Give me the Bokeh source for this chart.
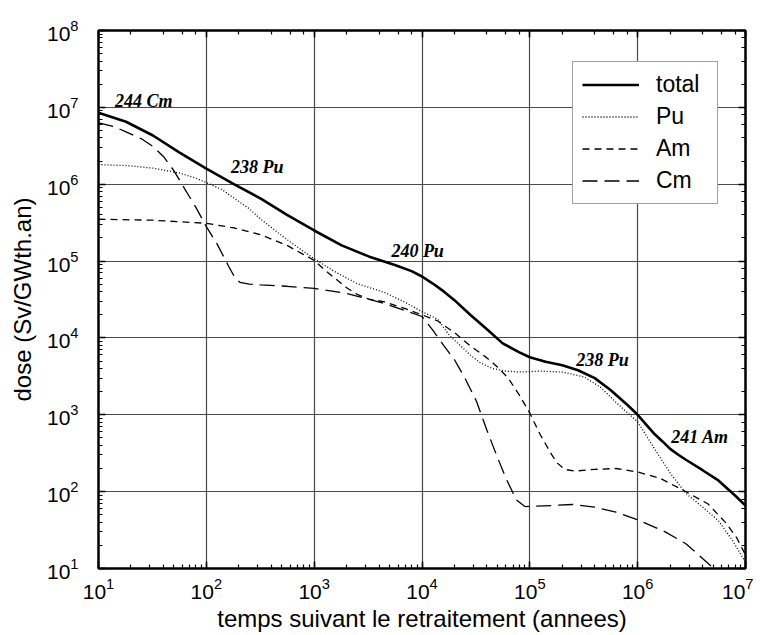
from bokeh.plotting import figure
from bokeh.models import Range1d, LogAxis, LogTicker, Legend, LegendItem, ColumnDataSource
from bokeh.core.properties import value
from bokeh.embed import file_html
from bokeh.resources import INLINE

# ---- data (years, Sv/GWth.an) ----
total_years = [10, 18, 32, 56, 100, 180, 320, 560, 1000, 1800, 3200, 5600, 8000, 1e4, 1.26e4,
               1.6e4, 2e4, 2.8e4, 4e4, 5.6e4, 8e4, 1e5, 1.4e5, 2e5, 2.8e5, 4e5, 5.6e5, 8e5,
               1e6, 1.4e6, 1.7e6, 2e6, 2.4e6, 2.8e6, 4e6, 5.6e6, 8e6, 1e7]
total_dose = [8.5e6, 6.5e6, 4.3e6, 2.6e6, 1.6e6, 1.0e6, 6.5e5, 4.0e5, 2.5e5, 1.6e5, 1.15e5,
              8.9e4, 7.4e4, 6.3e4, 5.1e4, 4.0e4, 3.1e4, 2.0e4, 1.3e4, 8.5e3, 6.5e3, 5.6e3,
              4.9e3, 4.4e3, 3.8e3, 3.0e3, 2.1e3, 1.35e3, 1.0e3, 5.8e2, 4.5e2, 3.6e2, 3.0e2,
              2.6e2, 1.9e2, 1.4e2, 89, 66]

pu_years = [10, 18, 32, 56, 80, 100, 140, 180, 250, 320, 560, 1000, 1600, 2500, 4500, 7000,
            1e4, 1.4e4, 1.8e4, 2.2e4, 2.8e4, 3.5e4, 4.5e4, 6e4, 8e4, 1.25e5, 2e5, 3.2e5, 4.5e5,
            6.3e5, 1e6, 1.4e6, 2e6, 2.8e6, 4e6, 5.6e6, 7.6e6, 1e7]
pu_dose = [1.8e6, 1.75e6, 1.62e6, 1.4e6, 1.2e6, 1.05e6, 8.5e5, 6.6e5, 4.8e5, 3.5e5, 1.9e5,
           1.07e5, 7.1e4, 5.1e4, 3.9e4, 2.9e4, 2.2e4, 1.75e4, 1.07e4, 8.3e3, 6.0e3, 4.7e3,
           4.0e3, 3.7e3, 3.6e3, 3.7e3, 3.6e3, 3.1e3, 2.3e3, 1.45e3, 8.1e2, 3.8e2, 1.75e2,
           95, 63, 42, 23, 12]

am_years = [10, 32, 100, 180, 320, 560, 1000, 1260, 1600, 2000, 2500, 3200, 4500, 7000, 1e4,
            1.4e4, 2e4, 2.8e4, 4e4, 5e4, 6.3e4, 8e4, 1e5, 1.25e5, 1.6e5, 1.8e5, 2.1e5, 2.6e5,
            4e5, 6.3e5, 1e6, 1.6e6, 2.8e6, 4.5e6, 6.6e6, 8.3e6, 1e7]
am_dose = [3.5e5, 3.4e5, 3.1e5, 2.7e5, 2.2e5, 1.6e5, 1.02e5, 7.6e4, 5.8e4, 4.5e4, 3.7e4, 3.2e4,
           2.95e4, 2.4e4, 2.0e4, 1.66e4, 1.17e4, 7.9e3, 5.5e3, 4.2e3, 3.0e3, 1.8e3, 1.05e3,
           5.5e2, 3.0e2, 2.35e2, 1.95e2, 1.85e2, 1.95e2, 2.0e2, 1.8e2, 1.5e2, 1.0e2, 69, 39,
           25, 15]

cm_years = [10, 14, 18, 25, 32, 40, 50, 63, 80, 100, 126, 160, 185, 205, 250, 320, 560, 1000,
            2000, 4500, 1e4, 1.26e4, 1.6e4, 2e4, 2.5e4, 3.2e4, 4e4, 5e4, 6e4, 7.5e4, 9e4,
            1.6e5, 2.5e5, 4e5, 6.3e5, 1e6, 1.8e6, 2.8e6, 4e6, 5.4e6, 6e6]
cm_dose = [6.3e6, 5.6e6, 4.8e6, 3.9e6, 3.1e6, 2.3e6, 1.5e6, 8.7e5, 5.0e5, 2.8e5, 1.66e5, 8.7e4,
           6.0e4, 5.3e4, 5.0e4, 4.9e4, 4.7e4, 4.4e4, 3.8e4, 2.8e4, 1.9e4, 1.26e4, 7.9e3, 5.2e3,
           3.0e3, 1.5e3, 6.3e2, 2.8e2, 1.5e2, 78, 64, 66, 68, 63, 54, 43, 30, 21, 13.5, 9.3, 8]

label_text = ["244 Cm", "238 Pu", "240 Pu", "238 Pu", "241 Am"]
label_years = [14.2, 169, 5200, 2.7e5, 2.05e6]
label_dose = [1.22e7, 1.69e6, 1.36e5, 5.1e3, 5.2e2]

SANS = "Liberation Sans"

p = figure(x_axis_type="log", y_axis_type="log",
           x_range=Range1d(10, 1e7), y_range=Range1d(10, 1e8),
           frame_width=647, frame_height=538,
           min_border_left=98, min_border_right=8, min_border_top=30, min_border_bottom=62,
           output_backend="svg", toolbar_location=None,
           background_fill_color="white", border_fill_color="white")

p.outline_line_color = "black"
p.outline_line_width = 2

for g in (p.xgrid, p.ygrid):
    g.grid_line_color = "#4a4a4a"
    g.grid_line_width = 1.2

def style_axis(ax, labels=True):
    ax.axis_line_color = "black"
    ax.axis_line_width = 2
    ax.major_tick_in = 7
    ax.major_tick_out = 0
    ax.minor_tick_in = 4
    ax.minor_tick_out = 0
    ax.major_tick_line_color = "black"
    ax.minor_tick_line_color = "black"
    ax.major_tick_line_width = 1.5
    ax.minor_tick_line_width = 1.2
    if labels:
        ax.major_label_text_font = SANS
        ax.major_label_text_font_size = "21px"
        ax.major_label_text_color = "black"
        ax.axis_label_text_font = SANS
        ax.axis_label_text_font_size = "24px"
        ax.axis_label_text_font_style = "normal"
        ax.axis_label_text_color = "black"
    else:
        ax.major_label_text_font_size = "1px"
        ax.major_label_text_color = None
        ax.major_label_standoff = 0

xa = p.xaxis[0]
ya = p.yaxis[0]
style_axis(xa)
style_axis(ya)
xa.axis_label = "temps suivant le retraitement (annees)"
ya.axis_label = "dose (Sv/GWth.an)"
xa.major_label_standoff = 9
xa.axis_label_standoff = 3
ya.major_label_standoff = 20
ya.axis_label_standoff = 8

top = LogAxis(ticker=LogTicker())
right = LogAxis(ticker=LogTicker())
style_axis(top, labels=False)
style_axis(right, labels=False)
p.add_layout(top, "above")
p.add_layout(right, "right")

r_total = p.line(total_years, total_dose, line_color="black", line_width=2.6)
r_pu = p.line(pu_years, pu_dose, line_color="black", line_width=1.3, line_dash="1 2")
r_am = p.line(am_years, am_dose, line_color="black", line_width=1.3, line_dash="7 5")
r_cm = p.line(cm_years, cm_dose, line_color="black", line_width=1.3, line_dash="15 7")

lab_src = ColumnDataSource(dict(x=label_years, y=label_dose, t=label_text))
p.text(x="x", y="y", text="t", source=lab_src,
       text_font=value("Liberation Serif"), text_font_style="bold italic",
       text_font_size="18px", text_color="black",
       text_align="left", text_baseline="alphabetic")

legend = Legend(items=[
    LegendItem(label="total", renderers=[r_total]),
    LegendItem(label="Pu", renderers=[r_pu]),
    LegendItem(label="Am", renderers=[r_am]),
    LegendItem(label="Cm", renderers=[r_cm]),
], location=(474, 364))
legend.label_text_font = SANS
legend.label_text_font_size = "23px"
legend.label_text_color = "black"
legend.glyph_width = 57
legend.glyph_height = 25
legend.label_height = 25
legend.label_width = 52
legend.label_standoff = 17
legend.spacing = 5
legend.padding = 9
legend.margin = 0
legend.border_line_color = "#444444"
legend.border_line_width = 1.3
legend.background_fill_color = "white"
legend.background_fill_alpha = 1.0
p.add_layout(legend, "center")

open("out.html", "w").write(file_html(p, INLINE))
